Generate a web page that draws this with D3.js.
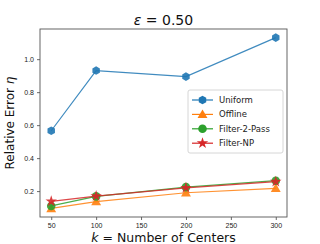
<!DOCTYPE html>
<html>
<head>
<meta charset="utf-8">
<script src="https://cdn.jsdelivr.net/npm/d3@7"></script>
<style>
  body { margin: 0; background: #fff; }
  svg { display: block; font-family: "DejaVu Sans", sans-serif; }
</style>
</head>
<body>
<div class="canvas"></div>
<script>
// data
const centers = [50, 100, 200, 300];
const uniform = [0.566, 0.931, 0.894, 1.131];
const offline = [0.095, 0.136, 0.19, 0.217];
const filter2Pass = [0.11, 0.168, 0.224, 0.263];
const filterNP = [0.138, 0.17, 0.22, 0.257];
const seriesNames = ['Uniform', 'Offline', 'Filter-2-Pass', 'Filter-NP'];
const xTicks = [50, 100, 150, 200, 250, 300];
const yTicks = [0.2, 0.4, 0.6, 0.8, 1.0];

const series = [
  { name: seriesNames[0], values: uniform, color: '#1f77b4', marker: 'hex' },
  { name: seriesNames[1], values: offline, color: '#ff7f0e', marker: 'tri' },
  { name: seriesNames[2], values: filter2Pass, color: '#2ca02c', marker: 'circle' },
  { name: seriesNames[3], values: filterNP, color: '#d62728', marker: 'star' }
];

const width = 320, height = 244;
const margin = { top: 29, right: 33, bottom: 27, left: 40 };
const graphWidth = width - margin.left - margin.right;
const graphHeight = height - margin.top - margin.bottom;

const svg = d3.select('.canvas')
  .append('svg')
  .attr('width', width)
  .attr('height', height);

const graph = svg.append('g')
  .attr('transform', `translate(${margin.left}, ${margin.top})`);

// scales (matplotlib-like 5% margins)
const x = d3.scaleLinear().domain([37.5, 312.5]).range([0, graphWidth]);
const y = d3.scaleLinear().domain([0.043, 1.183]).range([graphHeight, 0]);

// axes
const xAxis = d3.axisBottom(x).tickValues(xTicks).tickSize(3).tickPadding(3);
const yAxis = d3.axisLeft(y).tickValues(yTicks).tickSize(3).tickPadding(3)
  .tickFormat(d3.format('.1f'));

const xAxisGroup = graph.append('g')
  .attr('transform', `translate(0, ${graphHeight})`)
  .call(xAxis);
const yAxisGroup = graph.append('g').call(yAxis);

[xAxisGroup, yAxisGroup].forEach(g => {
  g.select('.domain').remove();
  g.selectAll('text').attr('font-size', 7).attr('fill', '#222');
  g.selectAll('line').attr('stroke', '#444').attr('stroke-width', 0.8);
});

// frame
graph.append('rect')
  .attr('width', graphWidth)
  .attr('height', graphHeight)
  .attr('fill', 'none')
  .attr('stroke', '#555')
  .attr('stroke-width', 0.9);

// marker shapes
const markerPath = (type, r) => {
  if (type === 'circle') return d3.symbol(d3.symbolCircle, Math.PI * r * r)();
  if (type === 'tri') {
    const s = r * 1.15;
    return `M0,${-s}L${s},${s * 0.75}L${-s},${s * 0.75}Z`;
  }
  if (type === 'star') return d3.symbol(d3.symbolStar, r * r * 2.2)();
  // hexagon, pointy top
  const pts = d3.range(6).map(i => {
    const a = Math.PI / 3 * i - Math.PI / 2;
    return [r * Math.cos(a), r * Math.sin(a)];
  });
  return 'M' + pts.join('L') + 'Z';
};

const line = d3.line()
  .x((d, i) => x(centers[i]))
  .y(d => y(d));

series.forEach(s => {
  const g = graph.append('g');
  g.append('path')
    .datum(s.values)
    .attr('d', line)
    .attr('fill', 'none')
    .attr('stroke', s.color)
    .attr('stroke-width', 1.2)
    .attr('stroke-opacity', 0.85);
  g.selectAll('path.mk')
    .data(s.values)
    .enter()
    .append('path')
    .attr('class', 'mk')
    .attr('d', markerPath(s.marker, 4.3))
    .attr('transform', (d, i) => `translate(${x(centers[i])}, ${y(d)})`)
    .attr('fill', s.color)
    .attr('fill-opacity', 0.9);
});

// legend
const legend = graph.append('g')
  .attr('transform', `translate(${188 - margin.left}, ${90 - margin.top})`);
legend.append('rect')
  .attr('width', 95)
  .attr('height', 63)
  .attr('rx', 2)
  .attr('fill', '#fff')
  .attr('fill-opacity', 0.8)
  .attr('stroke', '#ccc')
  .attr('stroke-width', 0.8);

series.forEach((s, i) => {
  const row = legend.append('g').attr('transform', `translate(0, ${10 + i * 14.4})`);
  row.append('line')
    .attr('x1', 4).attr('x2', 25)
    .attr('stroke', s.color)
    .attr('stroke-width', 1.2);
  row.append('path')
    .attr('d', markerPath(s.marker, 4.3))
    .attr('transform', 'translate(14.5, 0)')
    .attr('fill', s.color);
  row.append('text')
    .attr('x', 31)
    .attr('dy', '0.35em')
    .attr('font-size', 8.5)
    .attr('fill', '#222')
    .text(s.name);
});

// title and labels
svg.append('text')
  .attr('x', margin.left + graphWidth / 2)
  .attr('y', 25)
  .attr('text-anchor', 'middle')
  .attr('font-size', 14)
  .attr('fill', '#111')
  .html('<tspan font-style="italic">ε</tspan> = 0.50');

svg.append('text')
  .attr('x', margin.left + graphWidth / 2)
  .attr('y', 242)
  .attr('text-anchor', 'middle')
  .attr('font-size', 12.5)
  .attr('fill', '#111')
  .html('<tspan font-style="italic">k</tspan> = Number of Centers');

svg.append('text')
  .attr('transform', `translate(14, ${margin.top + graphHeight / 2}) rotate(-90)`)
  .attr('text-anchor', 'middle')
  .attr('font-size', 12)
  .attr('fill', '#111')
  .html('Relative Error <tspan font-style="italic">η</tspan>');
</script>
</body>
</html>
